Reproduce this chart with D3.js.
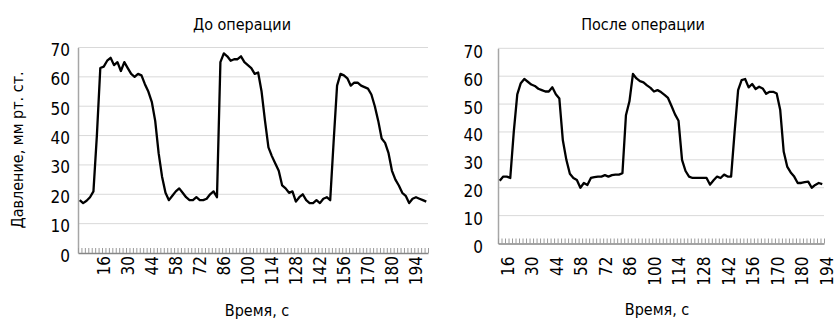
<!DOCTYPE html>
<html lang="ru">
<head>
<meta charset="utf-8">
<script src="https://d3js.org/d3.v7.min.js"></script>
<style>
  body { margin: 0; background: #fff; }
  svg text { font-family: "Liberation Sans Narrow", "DejaVu Sans", sans-serif; font-stretch: condensed; fill: #000; }
</style>
<title>Давление</title>
</head>
<body>
<svg id="chart" width="838" height="321"></svg>
<script>
// values, one point every 2 s
const titles = ["До операции", "После операции"];
const xTitle = "Время, с";
const yTitle = "Давление, мм рт. ст.";
const xTickLabels = ["16", "30", "44", "58", "72", "86", "100", "114", "128", "142", "156", "170", "180", "194"];
const yTicks = [0, 10, 20, 30, 40, 50, 60, 70];

const beforeValues = [
  18, 17, 17.8, 19, 21, 40, 63, 63.5, 65.5, 66.5, 64, 65, 62, 65, 63, 61, 60, 61, 60.5, 57.5,
  55, 51.5, 45, 34, 26, 20.5, 18, 19.5, 21, 22, 20.5, 19, 18, 18, 19, 18, 18, 18.5, 20, 21,
  19, 65, 68, 67, 65.5, 66, 66, 67, 65, 64, 63, 61, 61.5, 55, 45, 36, 33, 30.5, 28, 23,
  22, 20.5, 21, 17.5, 19, 20, 18, 17, 17, 18, 17, 18.5, 19, 18, 38, 57, 61, 60.5, 59.5, 57,
  58, 58, 57, 56.5, 56, 54, 50, 45, 39, 37.5, 34, 28, 25, 23, 20.5, 19.5, 17, 18.5, 19, 18.5,
  18, 17.5
];
const afterValues = [
  22.5, 24, 24, 23.5, 40, 53.5, 57.5, 59, 58, 57, 56.5, 55.5, 55, 54.5, 54.5, 56, 53.5, 52, 37, 30,
  25, 23.5, 22.8, 20, 21.7, 21, 23.5, 23.8, 24, 24, 24.5, 24, 24.5, 24.7, 24.7, 25.2, 46, 51, 60.8, 59.2,
  58.2, 57.8, 56.7, 55.8, 54.5, 55, 54.3, 53.3, 52.2, 49.3, 46.3, 44, 30, 26, 24, 23.5, 23.5, 23.5, 23.5, 23.5,
  21.1, 22.7, 24, 23.5, 24.7, 24, 24, 40, 55, 58.6, 59, 56, 57.2, 55.4, 56.2, 55.6, 53.7, 54.4, 54.4, 53.8,
  48, 33, 27.6, 25.5, 24, 21.7, 21.7, 22, 22.2, 20, 21, 21.7, 21.3
];

const svg = d3.select("#chart");
const tickFont = 17, titleFont = 16;

const panels = [
  { values: beforeValues, title: titles[0], x0: 78, x1: 428, yb: 253, yt: 47.5,
    firstLabel: 7, labelShift: 0, labelGap: 3, yLabelGap: 8, yLabelDy: 2,
    titleX: 242, xTitleX: 257, xTitleY: 316 },
  { values: afterValues, title: titles[1], x0: 498, x1: 824, yb: 243.5, yt: 48.3,
    firstLabel: 1, labelShift: 4, labelGap: 13, yLabelGap: 15, yLabelDy: 3,
    titleX: 643, xTitleX: 657, xTitleY: 315 }
];

panels.forEach(p => {
  const n = p.values.length;
  const x = d3.scaleLinear().domain([0, n]).range([p.x0, p.x1]);
  const y = d3.scaleLinear().domain([0, 70]).range([p.yb, p.yt]);
  const g = svg.append("g");

  // gridlines
  g.append("g").selectAll("line")
    .data(yTicks.slice(1))
    .join("line")
    .attr("x1", p.x0).attr("x2", p.x1)
    .attr("y1", d => y(d)).attr("y2", d => y(d))
    .attr("stroke", "#d9d9d9").attr("stroke-width", 1);

  // y axis
  const yAxis = g.append("g")
    .attr("transform", `translate(${p.x0},0)`)
    .call(d3.axisLeft(y).tickValues(yTicks).tickSize(0).tickPadding(p.yLabelGap));
  yAxis.select(".domain").attr("stroke", "#a6a6a6").attr("stroke-width", 1.5);
  yAxis.selectAll("text").attr("font-size", tickFont).attr("dy", `${p.yLabelDy + 6}px`);

  // x axis: small ticks between categories
  const xAxis = g.append("g")
    .attr("transform", `translate(0,${p.yb})`)
    .call(d3.axisBottom(x).tickValues(d3.range(n + 1)).tickSize(-5).tickSizeOuter(0).tickFormat(""));
  xAxis.select(".domain").attr("stroke", "#868686").attr("stroke-width", 1.5);
  xAxis.selectAll(".tick line").attr("stroke", "#9a9a9a").attr("stroke-width", 1);

  // x tick labels every 7 categories
  const labelIdx = xTickLabels.map((_, k) => p.firstLabel + 7 * k + 0.5);
  const xLab = g.append("g")
    .attr("transform", `translate(0,${p.yb})`)
    .call(d3.axisBottom(x).tickValues(labelIdx).tickSize(0)
      .tickFormat((d, k) => xTickLabels[k]));
  xLab.select(".domain").remove();
  xLab.selectAll("text")
    .attr("font-size", tickFont)
    .attr("transform", "rotate(-90)")
    .attr("text-anchor", "end")
    .attr("x", -p.labelGap)
    .attr("y", p.labelShift)
    .attr("dy", "0.35em");

  // series line
  const line = d3.line()
    .x((d, i) => x(i + 0.5))
    .y(d => y(d));
  g.append("path")
    .datum(p.values)
    .attr("d", line)
    .attr("fill", "none")
    .attr("stroke", "#000")
    .attr("stroke-width", 2.3)
    .attr("stroke-linejoin", "round");

  // titles
  g.append("text").attr("x", p.titleX).attr("y", 30)
    .attr("text-anchor", "middle").attr("font-size", titleFont).text(p.title);
  g.append("text").attr("x", p.xTitleX).attr("y", p.xTitleY)
    .attr("text-anchor", "middle").attr("font-size", titleFont).text(xTitle);
});

svg.append("text")
  .attr("transform", "translate(23,150) rotate(-90)")
  .attr("text-anchor", "middle")
  .attr("font-size", titleFont)
  .text(yTitle);
</script>
</body>
</html>
